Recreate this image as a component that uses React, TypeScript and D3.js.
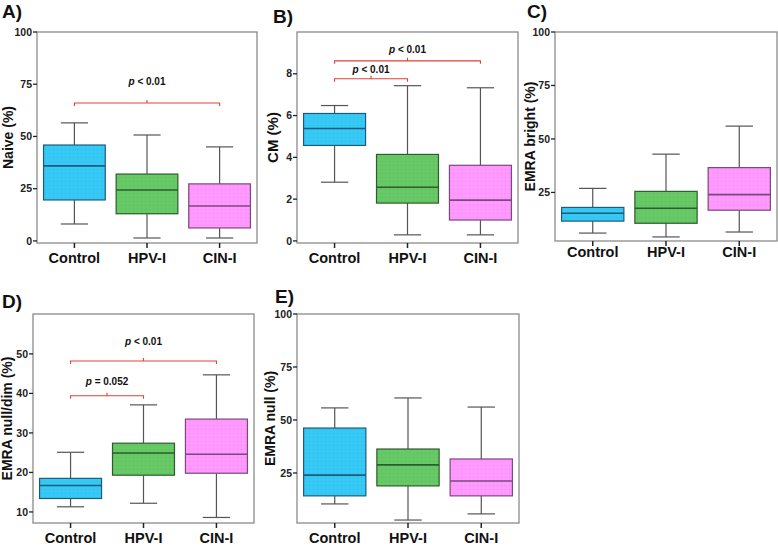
import React from 'react';
import * as d3 from 'd3';

const groups = ['Control', 'HPV-I', 'CIN-I'];
const fills = ['#36c9f6', '#66c966', '#ff99ff'];
const edges = ['#1d5c78', '#2e5c2e', '#7a4a7a'];

// [low whisker, Q1, median, Q3, high whisker]
const naive = [[8.1, 19.6, 35.9, 45.9, 56.5], [1.4, 13, 24.4, 32, 50.7], [1.4, 6.2, 16.7, 27.3, 45]];
const cm = [[2.81, 4.57, 5.38, 6.1, 6.48], [0.29, 1.81, 2.57, 4.14, 7.43], [0.29, 1.0, 1.95, 3.62, 7.33]];
const emraBright = [[6, 11.6, 15.3, 18, 26.9], [4.2, 10.6, 17.6, 25.5, 42.9], [6.5, 16.7, 24, 36.6, 56]];
const emraNullDim = [[11.3, 13.4, 16.7, 18.5, 25.1], [12.2, 19.3, 24.9, 27.4, 37.1], [8.6, 19.8, 24.6, 33.5, 44.7]];
const emraNull = [[10.4, 14.2, 24, 46.2, 55.7], [2.8, 18.9, 28.8, 36.3, 60.4], [5.7, 14.2, 21.2, 31.6, 56.1]];

const ticksPct = [0, 25, 50, 75, 100];
const ticksCM = [0, 2, 4, 6, 8];
const ticksUpper = [25, 50, 75, 100];
const ticksDim = [10, 20, 30, 40, 50];

// [from, to, level, text]
const naiveBrackets = [['Control', 'CIN-I', 66, '< 0.01']];
const cmBrackets = [['Control', 'CIN-I', 8.62, '< 0.01'], ['Control', 'HPV-I', 7.76, '< 0.01']];
const dimBrackets = [['Control', 'CIN-I', 48.2, '< 0.01'], ['Control', 'HPV-I', 39.4, '= 0.052']];

const font = 'Liberation Sans, Arial, Helvetica, sans-serif';

type PanelProps = {
  frame: [number, number, number, number];
  domain: [number, number];
  ticks: number[];
  stats: number[][];
  yLabel: string;
  labelX: number;
  labelSize?: number;
  catGap?: number;
  letter: string;
  letterPos: [number, number];
  brackets?: (string | number)[][];
  textGap?: number[];
};

function Panel({ frame, domain, ticks, stats, yLabel, labelX, labelSize = 14, catGap = 20, letter, letterPos, brackets = [], textGap = [] }: PanelProps) {
  const [left, top, right, bottom] = frame;
  const x = d3.scaleBand().domain(groups).range([left, right]).paddingInner(0.15).paddingOuter(0.09);
  const y = d3.scaleLinear().domain(domain).range([bottom, top]);
  const bw = x.bandwidth();
  const mid = (g: string) => (x(g) as number) + bw / 2;

  return (
    <g fontFamily={font}>
      <text x={letterPos[0]} y={letterPos[1]} fontSize={19} fontWeight="bold" fill="#111">{letter}</text>
      <rect x={left} y={top} width={right - left} height={bottom - top} fill="none" stroke="#8a8a8a" strokeWidth={1.3} />
      {ticks.map(t => (
        <g key={t}>
          <line x1={left - 4} x2={left} y1={y(t)} y2={y(t)} stroke="#222" strokeWidth={1.3} />
          <text x={left - 5} y={y(t)} dy="0.35em" textAnchor="end" fontSize={10.5} fontWeight="bold" fill="#222">{t}</text>
        </g>
      ))}
      <text transform={`translate(${labelX},${(top + bottom) / 2}) rotate(-90)`} textAnchor="middle" dy="0.35em"
        fontSize={labelSize} fontWeight="bold" fill="#111">{yLabel}</text>
      {groups.map((g, i) => {
        const [lo, q1, med, q3, hi] = stats[i];
        const cx = mid(g);
        const x0 = x(g) as number;
        const cap = bw * 0.22;
        return (
          <g key={g}>
            <line x1={cx} x2={cx} y1={y(hi)} y2={y(q3)} stroke="#555" strokeWidth={1.2} />
            <line x1={cx} x2={cx} y1={y(q1)} y2={y(lo)} stroke="#555" strokeWidth={1.2} />
            <line x1={cx - cap} x2={cx + cap} y1={y(hi)} y2={y(hi)} stroke="#555" strokeWidth={1.2} />
            <line x1={cx - cap} x2={cx + cap} y1={y(lo)} y2={y(lo)} stroke="#555" strokeWidth={1.2} />
            <rect x={x0} y={y(q3)} width={bw} height={y(q1) - y(q3)} fill={fills[i]} stroke={edges[i]} strokeWidth={1.2} />
            <rect x={x0} y={y(q3)} width={bw} height={y(q1) - y(q3)} fill="url(#dots)" />
            <line x1={x0} x2={x0 + bw} y1={y(med)} y2={y(med)} stroke={edges[i]} strokeWidth={1.6} />
            <line x1={cx} x2={cx} y1={bottom} y2={bottom + 5} stroke="#222" strokeWidth={1.5} />
            <text x={cx} y={bottom + catGap} textAnchor="middle" fontSize={14.5} fontWeight="bold" fill="#111">{g}</text>
          </g>
        );
      })}
      {brackets.map((b, i) => {
        const xa = mid(b[0] as string);
        const xb = mid(b[1] as string);
        const yy = y(b[2] as number);
        const xm = (xa + xb) / 2;
        return (
          <g key={i}>
            <path d={`M${xa},${yy + 3}V${yy}H${xb}V${yy + 3}M${xm},${yy}V${yy - 3}`} fill="none" stroke="#e0403a" strokeWidth={1.1} />
            <text x={xm} y={yy - (textGap[i] ?? 14)} textAnchor="middle" fontSize={10} fontWeight="bold" fill="#111">
              <tspan fontStyle="italic">p</tspan> {b[3] as string}
            </text>
          </g>
        );
      })}
    </g>
  );
}

export default function App() {
  return (
    <svg width={778} height={546} style={{ position: 'absolute', left: 0, top: 0, background: '#fff' }}>
      <defs>
        <pattern id="dots" width={4} height={4} patternUnits="userSpaceOnUse">
          <rect x={1} y={1} width={1} height={1} fill="#000" opacity={0.08} />
        </pattern>
      </defs>
      <Panel frame={[37, 32, 257, 243]} domain={[-1, 100]} ticks={ticksPct} stats={naive} yLabel="Naive (%)"
        labelX={8} letter="A)" letterPos={[2, 18]} brackets={naiveBrackets} textGap={[18]} />
      <Panel frame={[297, 32, 518, 243]} domain={[-0.1, 10]} ticks={ticksCM} stats={cm} yLabel="CM (%)"
        labelX={273} labelSize={15} letter="B)" letterPos={[273, 23]} brackets={cmBrackets} textGap={[8, 6]} />
      <Panel frame={[555, 32, 777, 241]} domain={[2.3, 100]} ticks={ticksUpper} stats={emraBright} yLabel="EMRA bright (%)"
        labelX={530} catGap={16} letter="C)" letterPos={[527, 18]} />
      <Panel frame={[33, 314, 254, 523]} domain={[7.2, 60.1]} ticks={ticksDim} stats={emraNullDim} yLabel="EMRA null/dim (%)"
        labelX={7} letter="D)" letterPos={[2, 308]} brackets={dimBrackets} textGap={[16, 11]} />
      <Panel frame={[297, 314, 519, 523]} domain={[1.4, 100]} ticks={ticksUpper} stats={emraNull} yLabel="EMRA null (%)"
        labelX={270} letter="E)" letterPos={[275, 303]} />
    </svg>
  );
}
